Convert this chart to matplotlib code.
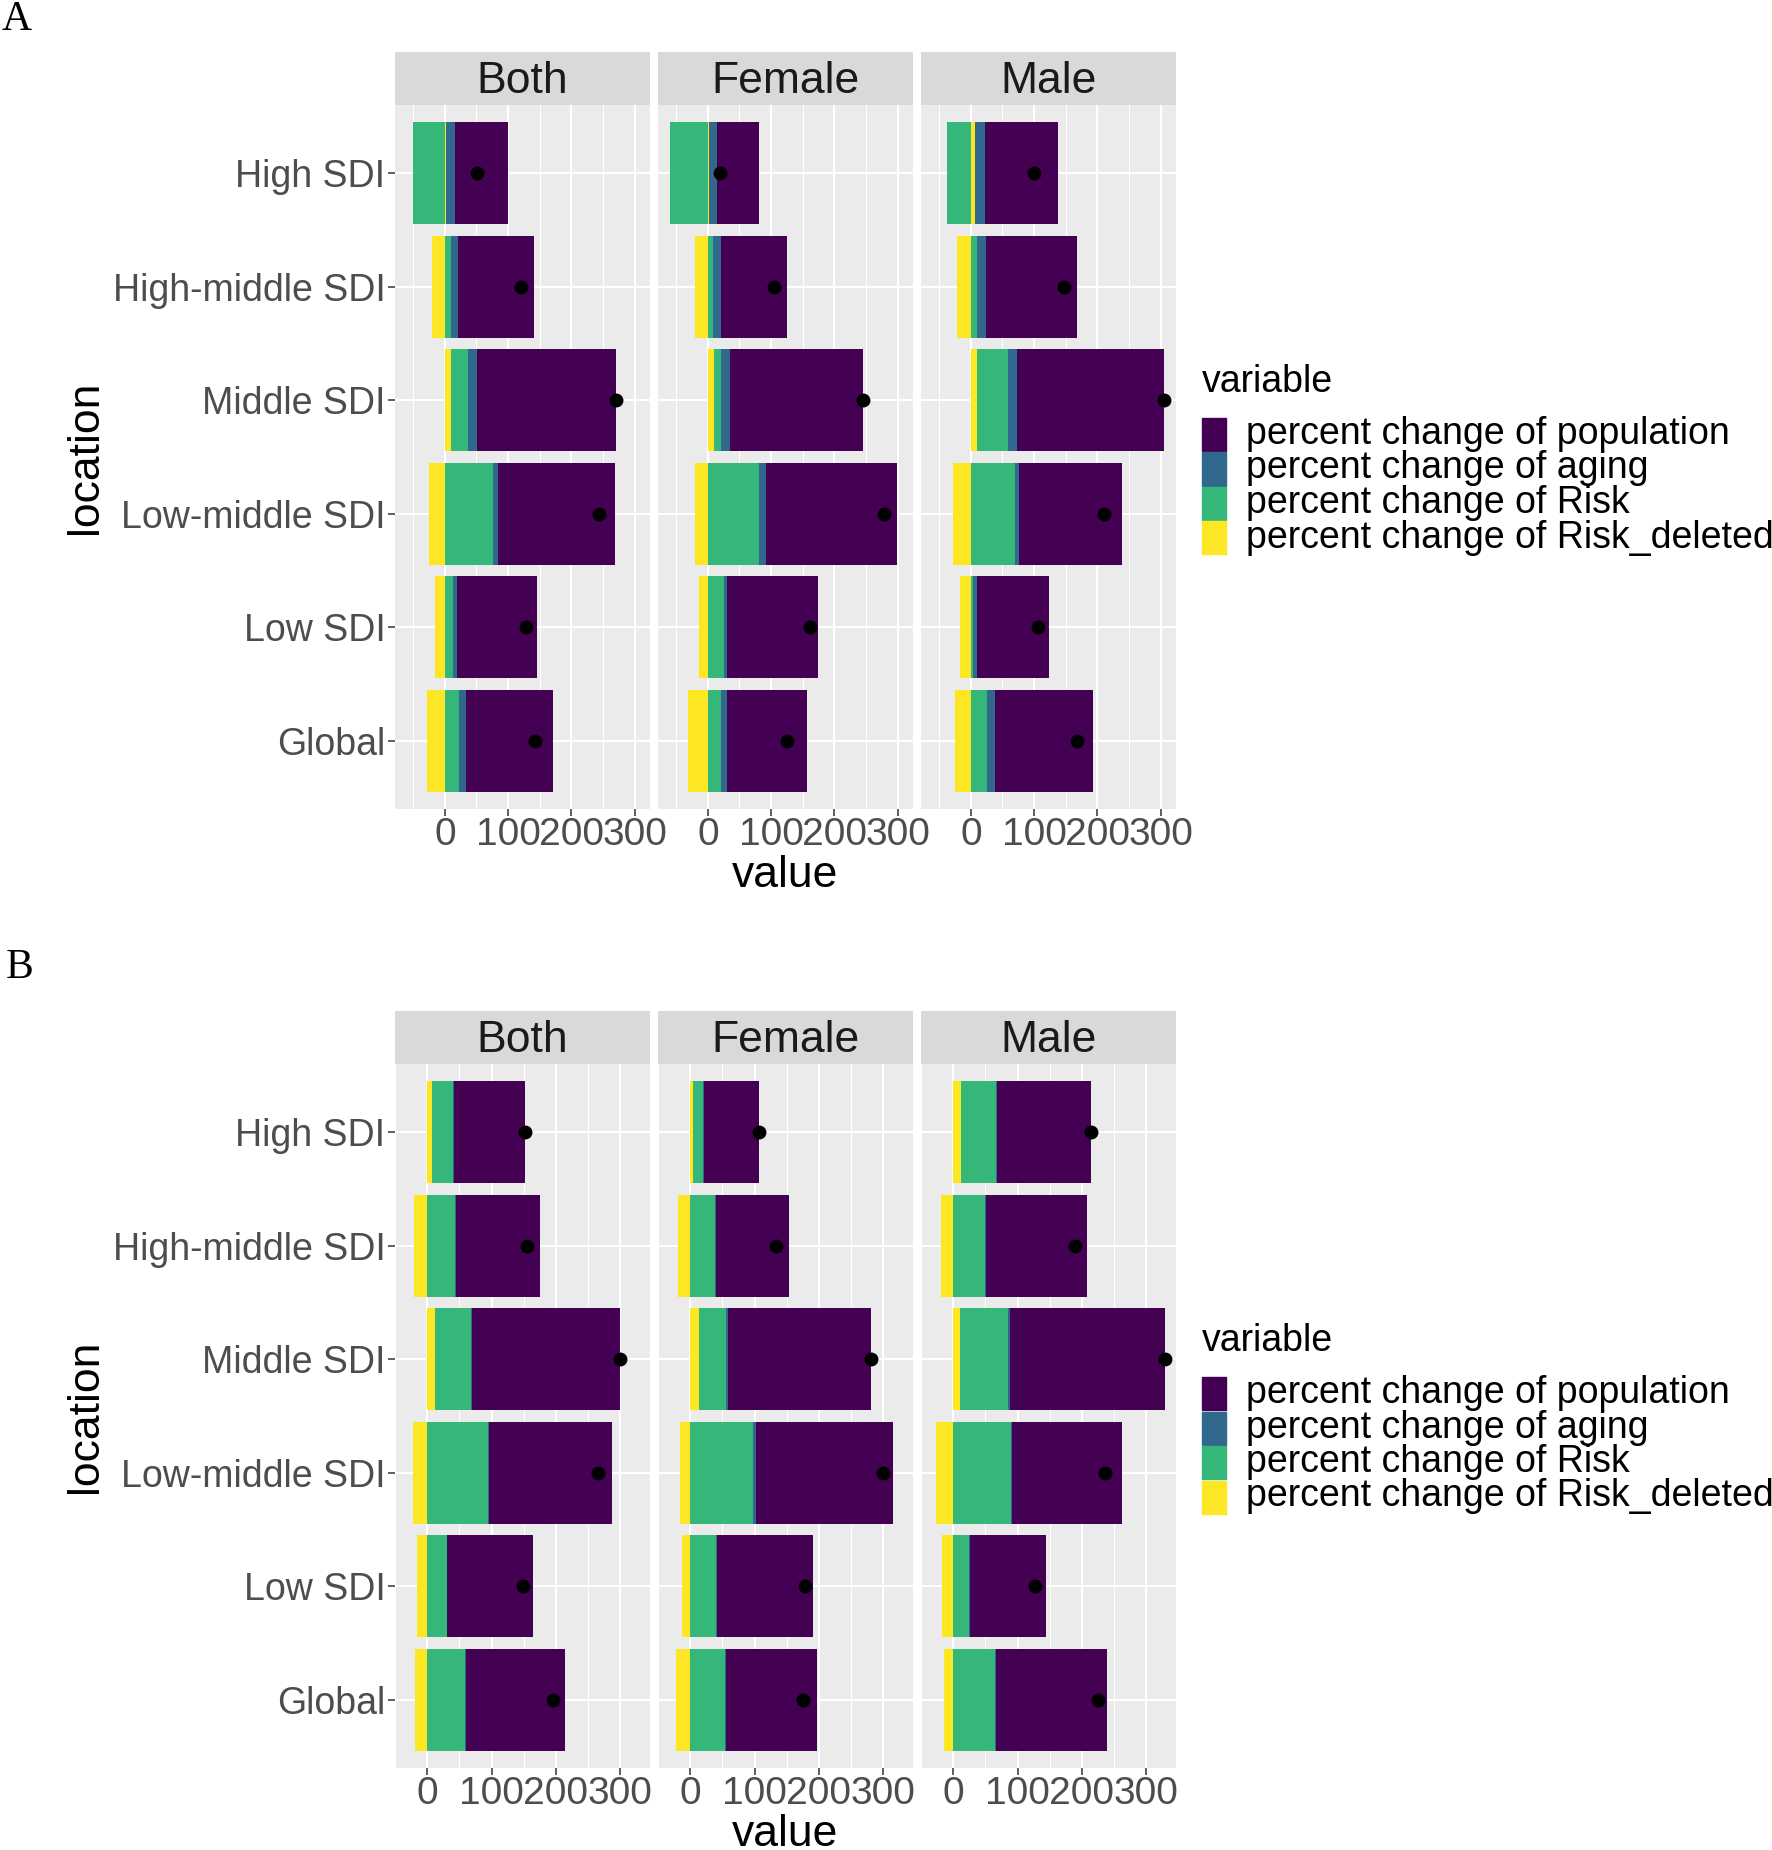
import numpy as np
import matplotlib.pyplot as plt
from matplotlib.patches import Rectangle

plt.rcParams['font.family'] = ['Liberation Sans', 'DejaVu Sans']

locations = ['High SDI', 'High-middle SDI', 'Middle SDI', 'Low-middle SDI', 'Low SDI', 'Global']
sexes = ['Both', 'Female', 'Male']
variables = ['percent change of population', 'percent change of aging',
             'percent change of Risk', 'percent change of Risk_deleted']
colors = ['#440154', '#31688E', '#35B779', '#FDE725']

# panel A
a_population = {'Both': [84, 120, 220.5, 185, 126, 138],
                'Female': [66, 105, 210.5, 207, 143.7, 127],
                'Male': [115, 145, 233, 162.5, 113.5, 155]}
a_aging = {'Both': [14, 12, 14, 8, 6.3, 11],
           'Female': [12.6, 12.6, 15, 11, 6, 9.5],
           'Male': [16, 12.7, 15, 6.3, 6.3, 11.6]}
a_risk = {'Both': [-50, 9, 27, 76, 12.6, 22.6],
          'Female': [-60.5, 7.4, 10.5, 81, 25, 20],
          'Male': [-37.5, 10.5, 49, 70, 3, 26]}
a_risk_deleted = {'Both': [2.5, -21, 9.5, -25, -16, -29],
                  'Female': [1.5, -21, 9.5, -20, -13.7, -31],
                  'Male': [7, -21.6, 9, -28.5, -17.4, -24.8]}

# panel B
b_population = {'Both': [109, 131, 229.6, 191, 133, 154],
                'Female': [86, 113, 222.5, 214, 149.5, 141],
                'Male': [145.4, 157.7, 240.3, 171, 119.4, 172]}
b_aging = {'Both': [2, 1.5, 2, 1.5, 1, 1.5],
           'Female': [1.5, 1.5, 2, 4, 1, 1.5],
           'Male': [2, 2, 3.6, 1.5, 1, 1.5]}
b_risk = {'Both': [32.7, 43, 56, 95, 30.6, 59],
          'Female': [15.3, 38.8, 42.3, 98, 40.8, 54.6],
          'Male': [53.6, 49, 74, 89.8, 24.5, 65.3]}
b_risk_deleted = {'Both': [7.6, -20, 12, -21.4, -15.3, -18.4],
                  'Female': [4, -19.4, 13.8, -16.3, -12.8, -21.4],
                  'Male': [12.8, -18.9, 10.7, -26.5, -17.9, -14.3]}

W, H = 1772, 1850
fig = plt.figure(figsize=(W / 100, H / 100), dpi=100)


def box(x0, y0, x1, y1):
    return [x0 / W, 1 - y1 / H, (x1 - x0) / W, (y1 - y0) / H]


def stack(vals):
    # ggplot stacking: last level nearest zero, positives and negatives apart
    pos = np.zeros(len(locations))
    neg = np.zeros(len(locations))
    out = []
    for k in [3, 2, 1, 0]:
        v = np.array(vals[k], dtype=float)
        left = np.where(v >= 0, pos, neg)
        out.append((k, v, left))
        pos += np.clip(v, 0, None)
        neg += np.clip(v, None, 0)
    return out, pos, neg


facet_x = [(395, 650), (658, 913), (921, 1176)]


def draw_block(data, top, label, label_y):
    strip_top, panel_top, panel_bot = top, top + 53, top + 757
    # x range shared by facets
    lo, hi = 0, 0
    for s in sexes:
        vals = [d[s] for d in data]
        _, p, n = stack(vals)
        lo = min(lo, n.min())
        hi = max(hi, p.max())
    pad = (hi - lo) * 0.05
    xlim = (lo - pad, hi + pad)

    y = np.arange(len(locations))[::-1]
    for j, s in enumerate(sexes):
        x0, x1 = facet_x[j]
        sax = fig.add_axes(box(x0, strip_top, x1, panel_top))
        sax.set_facecolor('#D9D9D9')
        sax.set_xticks([])
        sax.set_yticks([])
        for sp in sax.spines.values():
            sp.set_visible(False)
        sax.text(0.5, 0.45, s, ha='center', va='center', fontsize=32,
                 color='#1A1A1A', transform=sax.transAxes)

        ax = fig.add_axes(box(x0, panel_top, x1, panel_bot))
        ax.set_facecolor('#EBEBEB')
        for sp in ax.spines.values():
            sp.set_visible(False)
        vals = [d[s] for d in data]
        parts, _, _ = stack(vals)
        for k, v, left in parts:
            ax.barh(y, v, left=left, height=0.9, color=colors[k], zorder=2)
        ax.scatter(np.sum(vals, axis=0), y, s=100, color='black', zorder=3,
                   linewidths=0)
        ax.set_xlim(xlim)
        ax.set_ylim(-0.6, len(locations) - 0.4)
        ax.set_xticks([0, 100, 200, 300])
        ax.set_xticks([-50, 50, 150, 250], minor=True)
        ax.set_yticks(y)
        ax.grid(which='major', color='white', linewidth=1.5, zorder=0)
        ax.grid(which='minor', axis='x', color='white', linewidth=0.75, zorder=0)
        ax.set_axisbelow(True)
        ax.tick_params(axis='x', which='major', length=5, width=1.1,
                       color='#333333', labelsize=28, labelcolor='#4D4D4D', pad=1)
        ax.tick_params(axis='y', which='major', length=5, width=1.1,
                       color='#333333', labelsize=27, labelcolor='#4D4D4D', pad=2)
        ax.tick_params(axis='x', which='minor', length=0)
        if j == 0:
            ax.set_yticklabels(locations)
        else:
            ax.tick_params(axis='y', length=0)
            ax.set_yticklabels([])

    fig.text(785.5 / W, 1 - (panel_bot + 66) / H, 'value', ha='center',
             va='center', fontsize=32)
    fig.text(86 / W, 1 - (panel_top + panel_bot) / 2 / H, 'location',
             ha='center', va='center', rotation=90, fontsize=32)
    fig.text(label[1] / W, 1 - label_y / H, label[0], ha='left', va='center',
             fontsize=30, family='Liberation Serif')

    # legend
    ly = panel_top + 277
    fig.text(1202 / W, 1 - ly / H, 'variable', ha='left', va='center', fontsize=27)
    for k, name in enumerate(variables):
        ky = ly + 35 + k * 34.5
        fig.add_artist(Rectangle((1202 / W, 1 - (ky + 34) / H), 24 / W, 33 / H,
                                 transform=fig.transFigure, color=colors[k]))
        fig.text(1246 / W, 1 - (ky + 17) / H, name, ha='left', va='center',
                 fontsize=27)


draw_block([a_population, a_aging, a_risk, a_risk_deleted], 52, ('A', 2), 20)
draw_block([b_population, b_aging, b_risk, b_risk_deleted], 1011, ('B', 6), 968)

fig.savefig('out.png', dpi=100, facecolor='white')
